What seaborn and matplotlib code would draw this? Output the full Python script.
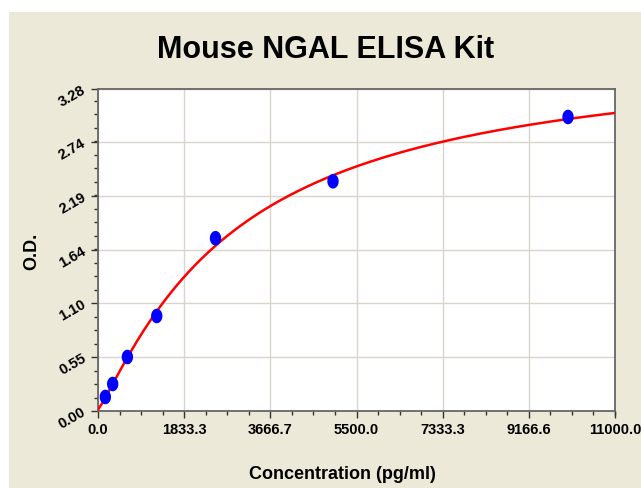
import numpy as np
import pandas as pd
import seaborn as sns
import matplotlib
matplotlib.use("Agg")
import matplotlib.pyplot as plt
from matplotlib.patches import Rectangle
from matplotlib.path import Path
from matplotlib.ticker import FixedLocator, AutoMinorLocator

# Data
concentration = [156.25, 312.5, 625, 1250, 2500, 5000, 10000]
od = [0.143, 0.275, 0.55, 0.968, 1.76, 2.34, 2.995]
x_ticks = [0.0, 1833.3, 3666.7, 5500.0, 7333.3, 9166.6, 11000.0]
y_ticks = [0.00, 0.55, 1.10, 1.64, 2.19, 2.74, 3.28]

df = pd.DataFrame({"Concentration": concentration, "OD": od})

# 4-parameter logistic fit (grid search on b, c; a and d solved linearly)
xs = np.array(concentration, dtype=float)
ys = np.array(od, dtype=float)
best = None
for b in np.linspace(0.6, 2.5, 191):
    for c in np.linspace(500, 15000, 291):
        g = (xs / c) ** b / (1 + (xs / c) ** b)
        A = np.column_stack([np.ones_like(g), g])
        coef, *_ = np.linalg.lstsq(A, ys, rcond=None)
        err = np.sum((ys - A @ coef) ** 2)
        if best is None or err < best[0]:
            best = (err, b, c, coef)
_, B, C, (A0, D) = best
xfit = np.linspace(0, 11000, 400)
yfit = A0 + D * (xfit / C) ** B / (1 + (xfit / C) ** B)
curve = pd.DataFrame({"x": xfit, "y": yfit})

sns.set_theme(style="white")
plt.rcParams['font.family'] = ['Liberation Sans', 'DejaVu Sans']
plt.rcParams['text.color'] = 'black'
plt.rcParams['axes.labelcolor'] = 'black'
plt.rcParams['xtick.color'] = 'black'
plt.rcParams['ytick.color'] = 'black'

t = np.linspace(0, 2 * np.pi, 40)
ellipse = Path(np.column_stack([0.78 * np.cos(t), np.sin(t)]), closed=True)

fig = plt.figure(figsize=(6.41, 4.88), dpi=100)
fig.patch.set_facecolor("white")
fig.patches.append(Rectangle((9 / 641, 0), 1 - 9 / 641, 1 - 12 / 488,
                             transform=fig.transFigure, facecolor="#ECE9D8",
                             edgecolor="none", zorder=-10))

ax = fig.add_axes([98 / 641, 1 - 411 / 488, (615 - 98) / 641, (411 - 89) / 488])
ax.set_facecolor("white")

sns.lineplot(data=curve, x="x", y="y", ax=ax, color="#FF0000", lw=1.8, zorder=3)
sns.scatterplot(data=df, x="Concentration", y="OD", ax=ax, color="#0000FF",
                s=110, marker=ellipse, edgecolor="none", zorder=4)

ax.set_xlim(0, 11000)
ax.set_ylim(0, 3.28)
ax.xaxis.set_major_locator(FixedLocator(x_ticks))
ax.yaxis.set_major_locator(FixedLocator(y_ticks))
ax.xaxis.set_minor_locator(AutoMinorLocator(4))
ax.yaxis.set_minor_locator(AutoMinorLocator(4))
ax.set_xticklabels([f"{v:.1f}" for v in x_ticks], fontsize=10.5, fontweight="bold")
ax.set_yticklabels([f"{v:.2f}" for v in y_ticks], fontsize=10.5, fontweight="bold",
                   rotation=30)
ax.tick_params(axis="both", which="major", direction="out", length=5, width=1,
               color="#333333", bottom=True, left=True)
ax.tick_params(axis="both", which="minor", direction="out", length=3, width=1,
               color="#333333", bottom=True, left=True)
ax.tick_params(axis="y", pad=2)
ax.tick_params(axis="x", pad=4)
ax.grid(True, which="major", color="#D8D6CC", lw=1)
for s in ax.spines.values():
    s.set_color("#666666")
    s.set_linewidth(1.3)

ax.set_xlabel("Concentration (pg/ml)", fontsize=13, fontweight="bold")
ax.xaxis.set_label_coords((342 - 98) / (615 - 98), -(466 - 411) / (411 - 89))
ax.set_ylabel("O.D.", fontsize=13, fontweight="bold")
ax.yaxis.set_label_coords(-(98 - 40) / (615 - 98), (411 - 251) / (411 - 89))
fig.text(326 / 641, 1 - 50 / 488, "Mouse NGAL ELISA Kit", ha="center", va="center",
         fontsize=22, fontweight="bold")

fig.savefig("out.png", dpi=100)
